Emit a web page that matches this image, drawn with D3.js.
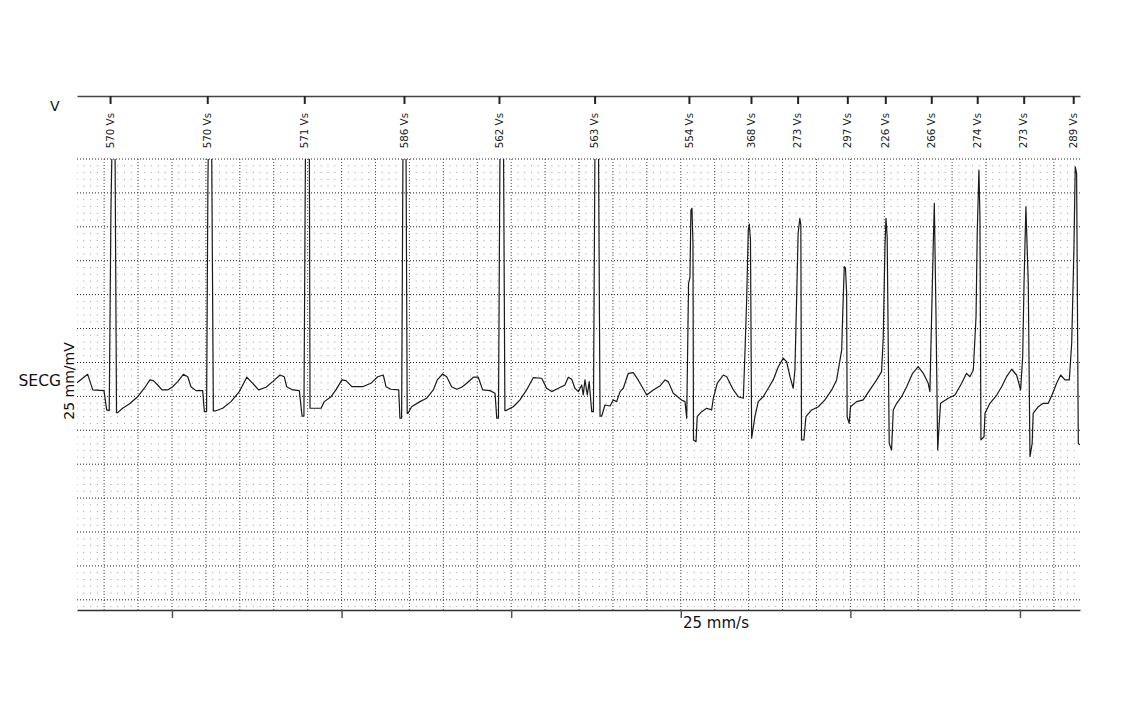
<!DOCTYPE html>
<html>
<head>
<meta charset="utf-8">
<script src="https://cdn.jsdelivr.net/npm/d3@7"></script>
<style>
  html, body { margin: 0; padding: 0; background: #fff; }
  svg { display: block; font-family: "DejaVu Sans", Verdana, sans-serif; }
</style>
</head>
<body>
<svg id="chart" width="1132" height="710"></svg>
<script>
// ---- data (time in ms from strip start, amplitude in µV) ----
const beatTimes = [195, 768, 1340, 1928, 2488, 3052, 3608, 3974, 4249, 4542, 4766, 5037, 5308, 5582, 5874];
const beatLabels = ["570 Vs", "570 Vs", "571 Vs", "586 Vs", "562 Vs", "563 Vs", "554 Vs", "368 Vs",
                    "273 Vs", "297 Vs", "226 Vs", "266 Vs", "274 Vs", "273 Vs", "289 Vs"];
const secondTicks = [560, 1560, 2560, 3560, 4560, 5560];
const channelName = "SECG";
const gainLabel = "25 mm/mV";
const speedLabel = "25 mm/s";
const markerRowLabel = "V";

const traceTime = [
  0, 63, 93, 159, 175, 190, 200, 209, 224, 233, 240, 269, 308, 358, 397, 430, 450, 476, 501, 535,
  564, 594, 627, 653, 672, 702, 741, 751, 764, 772, 778, 793, 804, 815, 859, 908, 957, 1001, 1036, 1071,
  1114, 1154, 1197, 1222, 1236, 1272, 1311, 1327, 1338, 1347, 1356, 1370, 1374, 1439, 1458, 1498, 1527, 1562, 1586, 1621,
  1684, 1733, 1773, 1806, 1822, 1851, 1897, 1904, 1914, 1922, 1931, 1940, 1947, 1952, 1973, 2022, 2062, 2101, 2124, 2156,
  2180, 2209, 2239, 2268, 2298, 2337, 2366, 2392, 2435, 2465, 2475, 2485, 2494, 2503, 2515, 2523, 2529, 2572, 2612, 2651,
  2690, 2740, 2769, 2799, 2838, 2877, 2897, 2917, 2936, 2956, 2976, 2985, 2995, 3009, 3020, 3035, 3045, 3054, 3063, 3075,
  3084, 3094, 3113, 3143, 3162, 3182, 3202, 3221, 3251, 3280, 3309, 3359, 3398, 3437, 3467, 3486, 3516, 3565, 3585, 3595,
  3606, 3614, 3620, 3626, 3632, 3635, 3650, 3657, 3683, 3713, 3742, 3752, 3775, 3811, 3831, 3870, 3899, 3929, 3939, 3949,
  3958, 3964, 3971, 3978, 3997, 4017, 4046, 4076, 4105, 4135, 4164, 4184, 4204, 4223, 4233, 4243, 4252, 4262, 4268, 4272,
  4286, 4298, 4332, 4371, 4410, 4450, 4479, 4509, 4515, 4524, 4531, 4538, 4541, 4553, 4561, 4597, 4636, 4675, 4715, 4744,
  4754, 4764, 4770, 4777, 4789, 4803, 4813, 4833, 4862, 4892, 4927, 4960, 4990, 5019, 5029, 5039, 5049, 5055, 5065, 5075,
  5084, 5092, 5137, 5177, 5216, 5245, 5265, 5285, 5301, 5308, 5318, 5324, 5330, 5348, 5354, 5383, 5423, 5452, 5481, 5511,
  5540, 5564, 5576, 5584, 5595, 5609, 5619, 5632, 5638, 5668, 5697, 5727, 5753, 5776, 5800, 5825, 5851, 5865, 5878, 5886,
  5894, 5904, 5914
];
const traceAmp = [
  80, 130, 38, 34, -80, -84, 1087, 1630, 1512, -96, -96, -70, -45, -2, 48, 97, 93, 67, 38, 38,
  57, 87, 130, 116, 57, 34, 34, -90, -90, 1276, 1748, 1630, -86, -86, -70, -31, 28, 113, 77, 38,
  54, 87, 126, 116, 57, 38, 34, -116, -116, 1453, 1748, 1512, -70, -70, -31, -2, 38, 97, 93, 57,
  57, 77, 116, 126, 57, 42, 38, -129, -129, 1453, 1748, 1453, -100, -100, -61, -31, -11, 38, 97, 132,
  116, 57, 42, 54, 77, 113, 113, 38, 34, 18, -129, -129, 1453, 1748, 1453, -84, -84, -61, -21, 38,
  110, 107, 48, 28, 48, 67, 113, 101, 48, 28, 67, 8, 97, 8, 87, -90, -90, 1453, 1748, 1453,
  -116, -116, -51, -57, -21, -31, 28, 48, 136, 140, 97, 8, 38, 61, 97, 87, 18, -21, -31, -129,
  667, 700, 1099, 1109, 900, -257, -267, -120, -90, -70, -80, -11, 77, 126, 116, 38, -2, -11, 274, 588,
  981, 1016, 922, -247, -120, -31, -2, 48, 97, 175, 225, 205, 116, 48, 156, 568, 962, 1050, 1011, -257,
  -257, -120, -80, -61, -21, 38, 97, 274, 490, 765, 757, 608, -120, -159, -61, -31, -21, 38, 97, 146,
  352, 883, 1050, 942, -277, -316, -80, -41, -2, 57, 136, 175, 136, 77, 28, 470, 903, 1139, 470, -316,
  -159, -41, -11, 8, 77, 136, 116, 156, 470, 962, 1335, 1060, -257, -238, -100, -41, 8, 57, 116, 160,
  126, 38, 234, 667, 1118, 667, -356, -277, -100, -61, -41, -41, 18, 77, 126, 97, 97, 313, 863, 1354,
  1315, -277, -287
];

// ---- layout ----
const svg = d3.select("#chart");
const left = 77, right = 1080, gridTop = 159, gridBottom = 610, markerAxisY = 96;

const x = d3.scaleLinear().domain([0, 5914]).range([left, right]);
const y = d3.scaleLinear().domain([-1260, 1400]).range([gridBottom, gridTop]);

// ---- ECG paper grid ----
const grid = svg.append("g");
const minorY = d3.range(1400, -1260, -40);
const majorX = d3.range(160, 5914 + 1, 200);
const majorY = d3.range(1400, -1260, -200);
const pxPerMinor = x(40) - x(0);

// minor intersections as dotted rows (dots aligned with minor columns)
grid.selectAll("line.minor").data(minorY.filter(v => v % 200 !== 0)).join("line")
  .attr("x1", left).attr("x2", right)
  .attr("y1", d => y(d)).attr("y2", d => y(d))
  .attr("stroke", "#9a9a9a").attr("stroke-width", 1)
  .attr("stroke-dasharray", `1 ${pxPerMinor - 1}`)
  .attr("stroke-dashoffset", 0.5);

// major vertical lines
grid.selectAll("line.mx").data(majorX).join("line")
  .attr("x1", d => x(d)).attr("x2", d => x(d))
  .attr("y1", gridTop).attr("y2", gridBottom)
  .attr("stroke", "#555").attr("stroke-width", 1)
  .attr("stroke-dasharray", "1 2");

// major horizontal lines
grid.selectAll("line.my").data(majorY).join("line")
  .attr("x1", left).attr("x2", right)
  .attr("y1", d => y(d)).attr("y2", d => y(d))
  .attr("stroke", "#222").attr("stroke-width", 1)
  .attr("stroke-dasharray", "1 2");

// ---- trace ----
svg.append("defs").append("clipPath").attr("id", "plotClip")
  .append("rect").attr("x", left).attr("y", gridTop)
  .attr("width", right - left).attr("height", gridBottom - gridTop);

const trace = traceTime.map((t, i) => [t, traceAmp[i]]);
svg.append("path")
  .datum(trace)
  .attr("clip-path", "url(#plotClip)")
  .attr("fill", "none")
  .attr("stroke", "#1a1a1a")
  .attr("stroke-width", 1.2)
  .attr("stroke-linejoin", "round")
  .attr("d", d3.line().x(d => x(d[0])).y(d => y(d[1])));

// ---- marker axis (top) ----
const topAxis = svg.append("g")
  .attr("transform", `translate(0,${markerAxisY})`)
  .call(d3.axisBottom(x).tickValues(beatTimes).tickSize(8).tickSizeOuter(0).tickFormat(""));
topAxis.select(".domain").attr("stroke", "#444").attr("stroke-width", 1.5);
topAxis.selectAll(".tick line").attr("stroke", "#222").attr("stroke-width", 2);

svg.append("g").selectAll("text").data(beatTimes).join("text")
  .attr("transform", d => `translate(${x(d)},113) rotate(-90)`)
  .attr("text-anchor", "end")
  .attr("dy", "0.35em")
  .attr("font-size", 10.3)
  .attr("fill", "#222")
  .text((d, i) => beatLabels[i]);

svg.append("text").attr("x", 50).attr("y", 110.5)
  .attr("font-size", 14).attr("fill", "#111").text(markerRowLabel);

// ---- time axis (bottom) ----
const bottomAxis = svg.append("g")
  .attr("transform", `translate(0,${gridBottom})`)
  .call(d3.axisBottom(x).tickValues(secondTicks).tickSize(8).tickSizeOuter(0).tickFormat(""));
bottomAxis.select(".domain").attr("stroke", "#333").attr("stroke-width", 1.5);
bottomAxis.selectAll(".tick line").attr("stroke", "#555").attr("stroke-width", 1.5);

svg.append("text").attr("x", 683).attr("y", 628)
  .attr("font-size", 15).attr("fill", "#111").text(speedLabel);

// ---- channel labels ----
svg.append("text").attr("x", 61).attr("y", 385.5)
  .attr("text-anchor", "end").attr("font-size", 15.5).attr("fill", "#111").text(channelName);

svg.append("text")
  .attr("transform", "translate(74,381) rotate(-90)")
  .attr("text-anchor", "middle")
  .attr("font-size", 14).attr("fill", "#111").text(gainLabel);
</script>
</body>
</html>
